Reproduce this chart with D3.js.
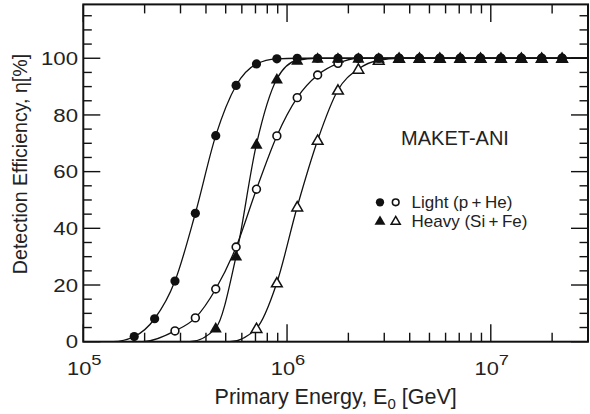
<!DOCTYPE html>
<html><head><meta charset="utf-8">
<script src="https://cdn.jsdelivr.net/npm/d3@7"></script>
<style>
html,body{margin:0;padding:0;background:#fff;}
svg{display:block;font-family:"Liberation Sans",Arial,Helvetica,sans-serif;}
</style></head>
<body>
<svg id="chart" width="590" height="414"></svg>
<script>
// ---- data ----
const energyGeV = [1.778e5, 2.239e5, 2.818e5, 3.548e5, 4.467e5, 5.623e5, 7.079e5, 8.913e5,
  1.122e6, 1.413e6, 1.778e6, 2.239e6, 2.818e6, 3.548e6, 4.467e6, 5.623e6, 7.079e6, 8.913e6,
  1.122e7, 1.413e7, 1.778e7, 2.239e7];
const lightFilled = [1.8, 8.1, 21.4, 45.3, 72.7, 90.4, 98.0, 99.8,
  100, 100, 100, 100, 100, 100, 100, 100, 100, 100, 100, 100, 100, 100];
const lightOpen = [null, null, 3.8, 8.4, 18.6, 33.4, 53.8, 72.6,
  86.1, 94.1, 98.2, 100, 100, 100, 100, 100, 100, 100, 100, 100, 100, 100];
const heavyFilled = [null, null, null, null, 4.8, 30.2, 69.7, 92.7,
  99.3, 100, 100, 100, 100, 100, 100, 100, 100, 100, 100, 100, 100, 100];
const heavyOpen = [null, null, null, null, null, null, 4.7, 20.8,
  47.6, 71.1, 88.8, 96.2, 99.3, 100, 100, 100, 100, 100, 100, 100, 100, 100];
// energies where each fitted curve leaves zero, and where curves end
const curveOnsetGeV = [1.40e5, 1.96e5, 3.33e5, 5.22e5];
const curveEndGeV = 3e7;
const xDomain = [1e5, 3e7];
const yDomain = [0, 119];
const yMajorTicks = [0, 20, 40, 60, 80, 100];
const yMinorTicks = [5, 10, 15, 25, 30, 35, 45, 50, 55, 65, 70, 75, 85, 90, 95, 105, 110, 115];
const xMajorTicks = [1e5, 1e6, 1e7];
const xMajorExp = ["5", "6", "7"];
const legendLabels = ["Light (p\u2009+\u2009He)", "Heavy (Si\u2009+\u2009Fe)"];
const detectorLabel = "MAKET-ANI";

// ---- layout ----
const L = 83.3, R = 588, T = 4.4, B = 341.7;
const svg = d3.select("#chart");
const x = d3.scaleLog().domain(xDomain).range([L, R]);
const y = d3.scaleLinear().domain(yDomain).range([B, T]);

svg.append("defs").append("clipPath").attr("id", "clip")
  .append("rect").attr("x", L).attr("y", T).attr("width", R - L).attr("height", B - T);

// ---- curves ----
const seriesList = [
  {vals: lightFilled, onset: curveOnsetGeV[0], kind: "circle", filled: true},
  {vals: lightOpen, onset: curveOnsetGeV[1], kind: "circle", filled: false},
  {vals: heavyFilled, onset: curveOnsetGeV[2], kind: "tri", filled: true},
  {vals: heavyOpen, onset: curveOnsetGeV[3], kind: "tri", filled: false}
];
const line = d3.line().x(d => x(d[0])).y(d => y(d[1])).curve(d3.curveMonotoneX);
const gCurves = svg.append("g").attr("clip-path", "url(#clip)");
seriesList.forEach(s => {
  const pts = [[xDomain[0], 0], [s.onset, 0]];
  energyGeV.forEach((e, i) => { if (s.vals[i] != null) pts.push([e, s.vals[i]]); });
  pts.push([curveEndGeV, 100]);
  gCurves.append("path").attr("d", line(pts))
    .attr("fill", "none").attr("stroke", "#111").attr("stroke-width", 1.3);
});

// ---- markers ----
const triFilled = d3.symbol().type(d3.symbolTriangle).size(64);
const triOpen = d3.symbol().type(d3.symbolTriangle).size(50);
function drawMarker(g, kind, filled, cx, cy, scale) {
  scale = scale || 1;
  if (kind === "circle") {
    g.append("circle").attr("cx", cx).attr("cy", cy)
      .attr("r", (filled ? 4.6 : 3.9) * scale)
      .attr("fill", filled ? "#111" : "#fff")
      .attr("stroke", "#111").attr("stroke-width", filled ? 0 : 1.6);
  } else {
    g.append("path").attr("d", (filled ? triFilled : triOpen)())
      .attr("transform", `translate(${cx},${cy + 1}) scale(${scale})`)
      .attr("fill", filled ? "#111" : "#fff")
      .attr("stroke", "#111").attr("stroke-width", filled ? 0 : 1.5 / scale);
  }
}
const gMarks = svg.append("g");
[1, 3, 0, 2].forEach(si => {
  const s = seriesList[si];
  energyGeV.forEach((e, i) => {
    if (s.vals[i] != null) drawMarker(gMarks, s.kind, s.filled, x(e), y(s.vals[i]));
  });
});

// ---- frame & ticks ----
const gAx = svg.append("g").attr("stroke", "#111");
gAx.append("rect").attr("x", L).attr("y", T).attr("width", R - L).attr("height", B - T)
  .attr("fill", "none").attr("stroke-width", 2);
const tw = 1.4;
yMajorTicks.forEach(v => {
  gAx.append("line").attr("x1", L).attr("x2", L + 17).attr("y1", y(v)).attr("y2", y(v)).attr("stroke-width", tw);
  gAx.append("line").attr("x1", R).attr("x2", R - 17).attr("y1", y(v)).attr("y2", y(v)).attr("stroke-width", tw);
});
yMinorTicks.forEach(v => {
  gAx.append("line").attr("x1", L).attr("x2", L + 8.5).attr("y1", y(v)).attr("y2", y(v)).attr("stroke-width", tw);
  gAx.append("line").attr("x1", R).attr("x2", R - 8.5).attr("y1", y(v)).attr("y2", y(v)).attr("stroke-width", tw);
});
x.ticks().forEach(v => {
  const major = xMajorTicks.some(m => Math.abs(m - v) / m < 1e-9);
  const len = major ? 17.5 : 9;
  gAx.append("line").attr("x1", x(v)).attr("x2", x(v)).attr("y1", B).attr("y2", B - len).attr("stroke-width", tw);
  gAx.append("line").attr("x1", x(v)).attr("x2", x(v)).attr("y1", T).attr("y2", T + len).attr("stroke-width", tw);
});

// ---- tick labels ----
const gLab = svg.append("g").attr("fill", "#222");
yMajorTicks.forEach(v => {
  gLab.append("text").attr("transform", `translate(78,${y(v) + 6.7}) scale(1.2,1)`)
    .attr("text-anchor", "end").attr("font-size", 18.5).text(d3.format("d")(v));
});
xMajorTicks.forEach((v, i) => {
  const t = gLab.append("text").attr("transform", `translate(${x(v) + 1},375) scale(1.18,1)`)
    .attr("text-anchor", "middle").attr("font-size", 18.5);
  t.append("tspan").text("10");
  t.append("tspan").attr("font-size", 15.5).attr("dy", -10.5).text(xMajorExp[i]);
});

// ---- axis titles ----
const xt = gLab.append("text").attr("x", (L + R) / 2).attr("y", 404)
  .attr("text-anchor", "middle").attr("font-size", 21.5);
xt.append("tspan").text("Primary Energy, E");
xt.append("tspan").attr("font-size", 15).attr("dy", 5).text("0");
xt.append("tspan").attr("dy", -5).text(" [GeV]");

gLab.append("text").attr("transform", "translate(27,164) rotate(-90)")
  .attr("text-anchor", "middle").attr("font-size", 19.6)
  .text("Detection Efficiency, \u03B7[%]");

// ---- annotation & legend ----
gLab.append("text").attr("x", 455).attr("y", 145).attr("text-anchor", "middle")
  .attr("font-size", 20).text(detectorLabel);

const gLeg = svg.append("g");
const legRows = [[["circle", true], ["circle", false]], [["tri", true], ["tri", false]]];
const legY = [202.3, 221.7];
legRows.forEach((row, r) => {
  drawMarker(gLeg, row[0][0], row[0][1], 380, legY[r] - (row[0][0] === "tri" ? 1 : 0), 0.9);
  drawMarker(gLeg, row[1][0], row[1][1], 395.7, legY[r] - (row[1][0] === "tri" ? 1 : 0), 0.85);
  gLeg.append("text").attr("x", 411.5).attr("y", legY[r] + 5.6)
    .attr("font-size", 17).attr("fill", "#222").text(legendLabels[r]);
});
</script>
</body></html>
